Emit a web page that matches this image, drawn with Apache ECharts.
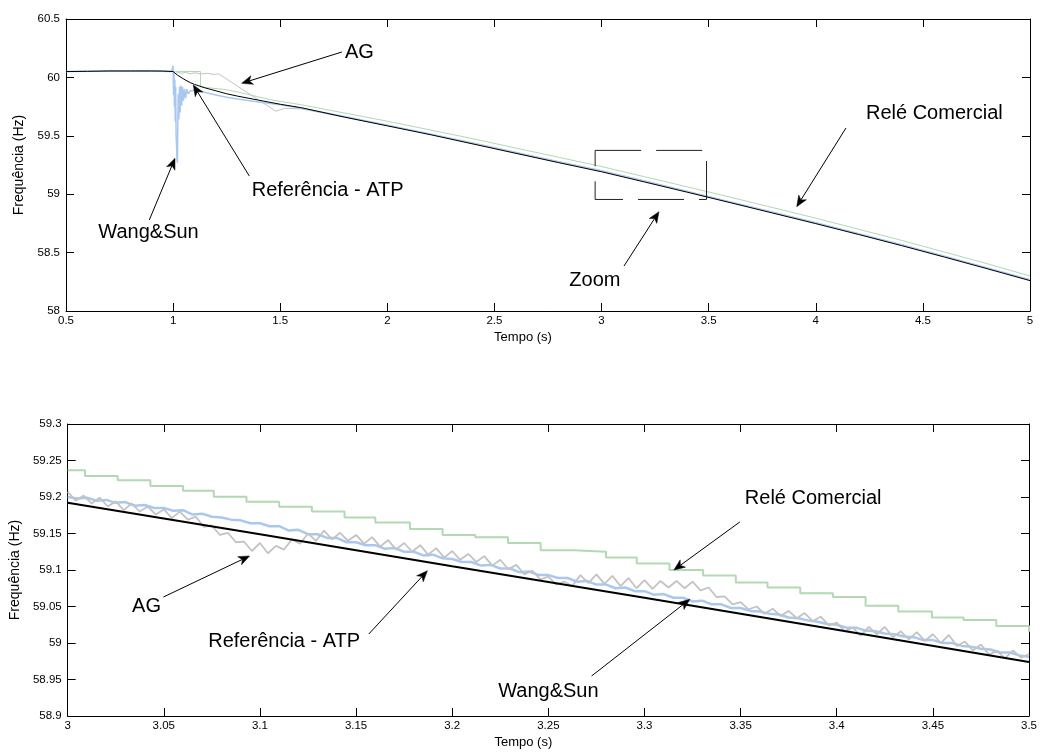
<!DOCTYPE html>
<html>
<head>
<meta charset="utf-8">
<title>Frequência - comparação de estimadores</title>
<script src="https://cdn.jsdelivr.net/npm/echarts/dist/echarts.min.js"></script>
<style>
  html, body { margin: 0; padding: 0; background: #fff; }
  #chart { width: 1040px; height: 752px; }
</style>
</head>
<body>
<div id="chart"></div>
<script>
// ---------- Full run, 0.5 s to 5 s : [time (s), frequency (Hz)] ----------
const refTop = [
  [0.5, 60.05], [0.6, 60.052], [0.7, 60.055], [0.8, 60.055], [0.9, 60.055], [0.95, 60.054],
  [1.0, 60.05], [1.02, 60.02], [1.05, 59.985], [1.08, 59.955], [1.1, 59.94], [1.15, 59.91],
  [1.2, 59.885], [1.25, 59.86], [1.3, 59.84], [1.4, 59.805], [1.5, 59.77], [1.6, 59.74],
  [1.8, 59.66], [2.0, 59.585], [2.2, 59.51], [2.4, 59.43], [2.6, 59.35], [2.8, 59.27],
  [3.0, 59.192], [3.2, 59.105], [3.4, 59.017], [3.6, 58.928], [3.8, 58.838], [4.0, 58.748],
  [4.2, 58.655], [4.4, 58.56], [4.6, 58.462], [4.8, 58.362], [5.0, 58.26]
];
const wangSunTop = [
  [0.5, 60.05], [0.7, 60.055], [0.9, 60.055], [0.99, 60.05], [0.996, 60.07], [1.0, 60.10],
  [1.002, 59.85], [1.004, 60.04], [1.006, 59.75], [1.008, 59.98], [1.010, 59.62], [1.012, 59.92],
  [1.014, 59.5], [1.016, 59.42], [1.018, 59.3], [1.020, 59.27], [1.022, 59.6], [1.024, 59.86],
  [1.027, 59.64], [1.030, 59.92], [1.033, 59.7], [1.036, 59.93], [1.040, 59.76], [1.044, 59.92],
  [1.048, 59.8], [1.053, 59.9], [1.058, 59.82], [1.064, 59.9], [1.07, 59.86], [1.08, 59.885],
  [1.1, 59.89], [1.15, 59.87], [1.2, 59.85], [1.25, 59.83], [1.3, 59.815], [1.4, 59.79],
  [1.5, 59.765], [1.6, 59.735], [1.8, 59.665], [2.0, 59.59], [2.2, 59.515], [2.4, 59.435],
  [2.6, 59.355], [2.8, 59.275], [3.0, 59.2], [3.2, 59.113], [3.4, 59.024], [3.6, 58.934],
  [3.8, 58.845], [4.0, 58.755], [4.2, 58.662], [4.4, 58.567], [4.6, 58.469], [4.8, 58.369],
  [5.0, 58.267]
];
const agTop = [
  [0.5, 60.05], [0.9, 60.055], [1.0, 60.05], [1.01, 60.03], [1.02, 60.045], [1.04, 60.035],
  [1.06, 60.045], [1.08, 60.03], [1.1, 60.04], [1.13, 60.03], [1.16, 60.035], [1.19, 60.025],
  [1.21, 60.03], [1.23, 60.01], [1.3, 59.925], [1.38, 59.83], [1.48, 59.71], [1.52, 59.735],
  [1.6, 59.73], [1.7, 59.695], [1.8, 59.66], [2.0, 59.59], [2.2, 59.515], [2.4, 59.44],
  [2.6, 59.36], [2.8, 59.28], [3.0, 59.2], [3.2, 59.115], [3.4, 59.025], [3.6, 58.935],
  [3.8, 58.845], [4.0, 58.755], [4.2, 58.662], [4.4, 58.567], [4.6, 58.47], [4.8, 58.37],
  [5.0, 58.268]
];
const releTop = [
  [0.5, 60.05], [1.0, 60.052], [1.128, 60.05], [1.128, 59.918], [1.25, 59.895], [1.35, 59.855],
  [1.45, 59.81], [1.6, 59.765], [1.8, 59.695], [2.0, 59.625], [2.2, 59.55], [2.4, 59.475],
  [2.6, 59.395], [2.8, 59.316], [3.0, 59.237], [3.2, 59.15], [3.4, 59.063], [3.6, 58.975],
  [3.8, 58.885], [4.0, 58.795], [4.2, 58.70], [4.4, 58.605], [4.6, 58.505], [4.8, 58.405],
  [5.0, 58.30]
];
// region enlarged in the lower panel
const zoomBox = [[2.97, 59.375], [3.49, 59.375], [3.49, 58.955], [2.97, 58.955], [2.97, 59.375]];

// ---------- Detail, 3.0 s to 3.5 s ----------
const refZoom = [[3.0, 59.192], [3.1, 59.149], [3.2, 59.105], [3.3, 59.062], [3.4, 59.018], [3.5, 58.974]];

const wangSunZoomStart = 3.0, wangSunZoomStep = 0.005;
const wangSunZoom = [
  59.200, 59.198, 59.199, 59.195, 59.196, 59.192, 59.193, 59.188, 59.189, 59.185,
  59.185, 59.181, 59.182, 59.176, 59.177, 59.173, 59.172, 59.169, 59.168, 59.164,
  59.164, 59.160, 59.160, 59.154, 59.155, 59.149, 59.149, 59.144, 59.144, 59.138,
  59.138, 59.134, 59.134, 59.129, 59.130, 59.125, 59.125, 59.120, 59.121, 59.116,
  59.115, 59.111, 59.111, 59.106, 59.107, 59.102, 59.102, 59.097, 59.098, 59.093,
  59.093, 59.089, 59.089, 59.084, 59.085, 59.080, 59.080, 59.075, 59.076, 59.071,
  59.071, 59.066, 59.067, 59.062, 59.062, 59.057, 59.058, 59.053, 59.053, 59.048,
  59.048, 59.044, 59.043, 59.040, 59.039, 59.035, 59.034, 59.031, 59.029, 59.026,
  59.025, 59.021, 59.021, 59.017, 59.016, 59.013, 59.012, 59.009, 59.008, 59.004,
  59.004, 59.000, 59.000, 58.996, 58.995, 58.992, 58.991, 58.987, 58.987, 58.983,
  58.981
];

const agZoomStart = 3.0, agZoomStep = 1 / 240;
const agZoom = [
  59.207, 59.195, 59.202, 59.191, 59.199, 59.187, 59.194, 59.182, 59.191, 59.180,
  59.187, 59.176, 59.183, 59.171, 59.180, 59.169, 59.173, 59.159, 59.161, 59.148,
  59.151, 59.138, 59.139, 59.126, 59.137, 59.123, 59.133, 59.128, 59.142, 59.136,
  59.150, 59.140, 59.154, 59.142, 59.151, 59.140, 59.148, 59.136, 59.145, 59.132,
  59.141, 59.128, 59.137, 59.125, 59.134, 59.121, 59.130, 59.117, 59.126, 59.114,
  59.122, 59.111, 59.119, 59.106, 59.114, 59.101, 59.107, 59.094, 59.099, 59.087,
  59.091, 59.080, 59.084, 59.078, 59.093, 59.082, 59.094, 59.081, 59.092, 59.078,
  59.089, 59.075, 59.086, 59.074, 59.085, 59.076, 59.085, 59.075, 59.084, 59.072,
  59.076, 59.063, 59.064, 59.053, 59.056, 59.046, 59.050, 59.040, 59.047, 59.037,
  59.044, 59.034, 59.041, 59.030, 59.036, 59.024, 59.028, 59.016, 59.021, 59.010,
  59.022, 59.012, 59.022, 59.008, 59.016, 59.005, 59.015, 59.003, 59.012, 59.000,
  59.011, 58.996, 59.002, 58.990, 58.998, 58.984, 58.989, 58.979, 58.990, 58.980,
  58.985
];

// commercial relay: one new reading per cycle, held until the next one
const releZoom = [
  [3.000, 59.2366], [3.009, 59.2288], [3.026, 59.223], [3.043, 59.215], [3.060, 59.2087],
  [3.076, 59.2005], [3.093, 59.1936], [3.110, 59.1867], [3.127, 59.180], [3.144, 59.172],
  [3.160, 59.165], [3.178, 59.156], [3.195, 59.148], [3.212, 59.145], [3.229, 59.137],
  [3.246, 59.127], [3.263, 59.125], [3.280, 59.117], [3.296, 59.109], [3.313, 59.100],
  [3.3305, 59.0925], [3.3475, 59.083], [3.364, 59.076], [3.381, 59.068], [3.398, 59.063],
  [3.415, 59.051], [3.432, 59.043], [3.4495, 59.035], [3.466, 59.0315], [3.483, 59.0233],
  [3.5, 59.0155]
];

// axis ranges and tick spacing
const topTime = { min: 0.5, max: 5, interval: 0.5 };
const topFreq = { min: 58, max: 60.5, interval: 0.5 };
const zoomTime = { min: 3, max: 3.5, interval: 0.05 };
const zoomFreq = { min: 58.9, max: 59.3, interval: 0.05 };

// callouts: label position, arrow tail and arrow tip in data units
const notes = [
  { grid: 0, text: 'AG', label: [1.8024, 60.2175], align: 'left', tail: [1.788, 60.2175], tip: [1.3202, 59.9495] },
  { grid: 0, text: 'Wang&Sun', label: [0.8851, 58.6764], align: 'center', tail: [0.8888, 58.779], tip: [1.0088, 59.3074] },
  { grid: 0, text: 'Referência - ATP', label: [1.3668, 59.036], align: 'left', tail: [1.3556, 59.156], tip: [1.0942, 59.935] },
  { grid: 0, text: 'Relé Comercial', label: [4.2344, 59.695], align: 'left', tail: [4.141, 59.567], tip: [3.911, 58.893] },
  { grid: 0, text: 'Zoom', label: [2.969, 58.2654], align: 'center', tail: [3.1047, 58.385], tip: [3.268, 58.85] },
  { grid: 1, text: 'Relé Comercial', label: [3.3522, 59.1973], align: 'left', tail: [3.3496, 59.1658], tip: [3.3153, 59.1] },
  { grid: 1, text: 'AG', label: [3.041, 59.0507], align: 'center', tail: [3.0498, 59.063], tip: [3.0946, 59.1192] },
  { grid: 1, text: 'Referência - ATP', label: [3.0731, 59.0027], align: 'left', tail: [3.1566, 59.0123], tip: [3.1871, 59.099] },
  { grid: 1, text: 'Wang&Sun', label: [3.25, 58.9342], align: 'center', tail: [3.2725, 58.9548], tip: [3.3236, 59.0599] }
];

const FONT = '"Liberation Sans", Arial, Helvetica, sans-serif';
const COLOR_REF = '#000000';
const COLOR_WS = '#a9c8f0';
const COLOR_AG = '#c3c3c3';
const COLOR_RELE = '#b3d8b3';

const trimNum = v => String(+v.toFixed(2));
const withTimes = (start, step, values) => values.map((v, i) => [start + i * step, v]);

function xAxes(g, r) {
  const base = {
    type: 'value', gridIndex: g, min: r.min, max: r.max, interval: r.interval,
    splitLine: { show: false },
    axisLine: { show: true, onZero: false, lineStyle: { color: '#000', width: 1 } },
    axisTick: { show: true, inside: true, length: 8, lineStyle: { color: '#000', width: 1 } }
  };
  return [
    Object.assign({}, base, {
      position: 'bottom',
      axisLabel: { color: '#000', fontSize: 11.5, fontFamily: FONT, margin: 4, formatter: trimNum, showMinLabel: true, showMaxLabel: true },
      name: 'Tempo (s)', nameLocation: 'middle', nameGap: 20,
      nameTextStyle: { color: '#000', fontSize: 13, fontFamily: FONT, padding: [0, 50, 0, 0] }
    }),
    Object.assign({}, base, { position: 'top', axisLabel: { show: false } })
  ];
}
function yAxes(g, r) {
  const base = {
    type: 'value', gridIndex: g, min: r.min, max: r.max, interval: r.interval,
    splitLine: { show: false },
    axisLine: { show: true, onZero: false, lineStyle: { color: '#000', width: 1 } },
    axisTick: { show: true, inside: true, length: 8, lineStyle: { color: '#000', width: 1 } }
  };
  return [
    Object.assign({}, base, {
      position: 'left',
      axisLabel: { color: '#000', fontSize: 11.5, fontFamily: FONT, margin: 6, formatter: trimNum, showMinLabel: true, showMaxLabel: true },
      name: 'Frequência (Hz)', nameLocation: 'middle', nameGap: 40,
      nameTextStyle: { color: '#000', fontSize: 14, fontFamily: FONT }
    }),
    Object.assign({}, base, { position: 'right', axisLabel: { show: false } })
  ];
}

function curve(name, data, xi, yi, color, width, z, step) {
  const s = {
    name, type: 'line', xAxisIndex: xi, yAxisIndex: yi, data,
    symbol: 'none', showSymbol: false, z,
    lineStyle: { color, width },
    emphasis: { disabled: true }
  };
  if (step) s.step = step;
  return s;
}

const chart = echarts.init(document.getElementById('chart'), null, { renderer: 'canvas' });

chart.setOption({
  animation: false,
  backgroundColor: '#ffffff',
  grid: [
    { left: 66, top: 19, width: 964, height: 292 },
    { left: 66, top: 424, width: 964, height: 292 }
  ],
  xAxis: [...xAxes(0, topTime), ...xAxes(1, zoomTime)],
  yAxis: [...yAxes(0, topFreq), ...yAxes(1, zoomFreq)],
  series: [
    curve('Relé Comercial', releTop, 0, 0, COLOR_RELE, 1, 2),
    curve('AG', agTop, 0, 0, COLOR_AG, 1, 3),
    curve('Wang&Sun', wangSunTop, 0, 0, COLOR_WS, 1.5, 4),
    curve('Referência - ATP', refTop, 0, 0, COLOR_REF, 1, 5),
    {
      name: 'Zoom', type: 'line', xAxisIndex: 0, yAxisIndex: 0, data: zoomBox,
      symbol: 'none', z: 6, lineStyle: { color: '#222', width: 1, type: [46, 15] }
    },
    curve('Relé Comercial', releZoom, 2, 2, COLOR_RELE, 2, 2, 'end'),
    curve('Wang&Sun', withTimes(wangSunZoomStart, wangSunZoomStep, wangSunZoom), 2, 2, COLOR_WS, 2.5, 3),
    curve('AG', withTimes(agZoomStart, agZoomStep, agZoom), 2, 2, COLOR_AG, 1.8, 4),
    curve('Referência - ATP', refZoom, 2, 2, COLOR_REF, 2, 5)
  ]
});

// callout labels with MATLAB-style arrows
function arrowElements(tail, tip) {
  const dx = tip[0] - tail[0], dy = tip[1] - tail[1];
  const len = Math.hypot(dx, dy);
  const ux = dx / len, uy = dy / len, nx = -uy, ny = ux;
  const L = 11, W = 4.5, notch = 3;
  const bx = tip[0] - L * ux, by = tip[1] - L * uy;
  const mx = tip[0] - (L - notch) * ux, my = tip[1] - (L - notch) * uy;
  return [
    { type: 'line', silent: true, z: 100,
      shape: { x1: tail[0], y1: tail[1], x2: mx, y2: my },
      style: { stroke: '#000', lineWidth: 1 } },
    { type: 'polygon', silent: true, z: 100,
      shape: { points: [tip, [bx + W * nx, by + W * ny], [mx, my], [bx - W * nx, by - W * ny]] },
      style: { fill: '#000', stroke: '#000', lineWidth: 0.5 } }
  ];
}

const graphics = [];
notes.forEach(n => {
  const px = v => chart.convertToPixel({ gridIndex: n.grid }, v);
  const lab = px(n.label), tail = px(n.tail), tip = px(n.tip);
  graphics.push(...arrowElements(tail, tip));
  graphics.push({
    type: 'text', silent: true, z: 101, x: lab[0], y: lab[1],
    style: {
      text: n.text, fill: '#000', font: '20px ' + FONT,
      align: n.align, verticalAlign: 'middle',
      textAlign: n.align, textVerticalAlign: 'middle'
    }
  });
});
chart.setOption({ graphic: graphics });
</script>
</body>
</html>
